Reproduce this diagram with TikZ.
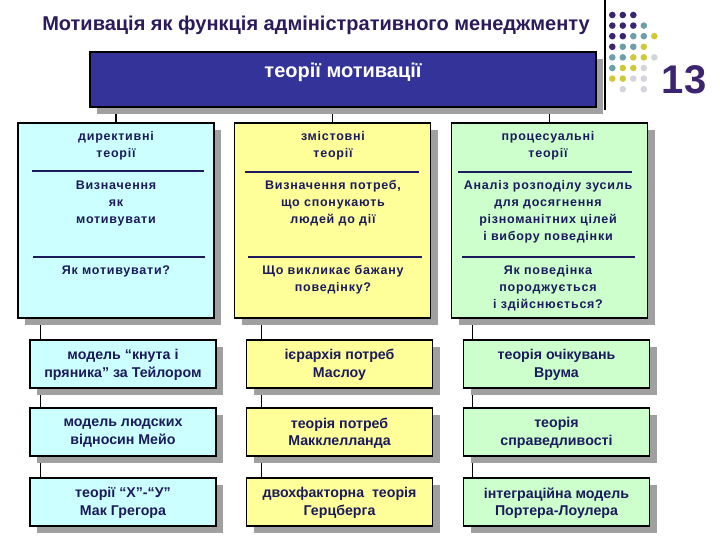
\documentclass[tikz,border=0pt]{standalone}
\usepackage{fontspec}
\setmainfont{Liberation Sans}
\usetikzlibrary{shadows,backgrounds}
\definecolor{titlec}{HTML}{2B1B5A}
\definecolor{txt}{HTML}{1A1A5C}
\definecolor{bluebox}{HTML}{333399}
\definecolor{cyanbox}{HTML}{CCFFFF}
\definecolor{yelbox}{HTML}{FFFF99}
\definecolor{grnbox}{HTML}{CCFFCC}
\definecolor{shd}{HTML}{A0A0A0}
\definecolor{dpur}{HTML}{3B2470}
\definecolor{dteal}{HTML}{6C9FA8}
\definecolor{dyel}{HTML}{CFC93A}
\definecolor{dgray}{HTML}{D4D4DE}
\begin{document}
\begin{tikzpicture}[x=1pt,y=-1pt,
  box/.style={draw=black,line width=1.5pt,inner sep=0pt,
    general shadow={fill=shd,shadow xshift=7pt,shadow yshift=-7pt}},
  colbox/.style={box,minimum width=196pt,minimum height=195pt},
  smallbox/.style={box,minimum width=186pt,minimum height=48pt},
  coltxt/.style={text=txt,font=\fontsize{12.5}{17}\selectfont\bfseries\addfontfeatures{LetterSpace=6},align=center,inner sep=0pt,anchor=north},
  smalltxt/.style={text=txt,font=\fontsize{14.2}{17.5}\selectfont\bfseries,align=center,inner sep=0pt},
  sepline/.style={draw=txt,line width=1.6pt},
  conn/.style={draw=black,line width=1.2pt},
  dot/.style={circle,inner sep=0pt,minimum size=6.6pt}
]
\useasboundingbox (0,0) rectangle (720,540);
% title
\node[text=titlec,font=\fontsize{20}{22}\selectfont\bfseries] (title) at (316,25) {Мотивація як функція адміністративного менеджменту};
% top right decoration
\draw[line width=1.2pt] (605,0) coordinate (vtop) -- (605,110) coordinate (vbot);
\foreach \r/\c/\col in {0/0/dpur,0/1/dpur,0/2/dpur,
  1/0/dpur,1/1/dpur,1/2/dpur,1/3/dteal,
  2/0/dpur,2/1/dpur,2/2/dteal,2/3/dteal,2/4/dyel,
  3/0/dpur,3/1/dteal,3/2/dteal,3/3/dyel,
  4/0/dteal,4/1/dteal,4/2/dyel,4/3/dyel,4/4/dgray,
  5/0/dteal,5/1/dyel,5/2/dyel,5/3/dgray,
  6/0/dyel,6/1/dyel,6/2/dgray,6/3/dgray,
  7/1/dgray,7/3/dgray}
  \node[dot,fill=\col] (d\r\c) at (612.3+10.5*\c,15+10.6*\r) {};
\node[text=dpur,font=\fontsize{40}{40}\selectfont\bfseries] (num) at (684,80) {13};
% main box
\node[box,fill=bluebox,minimum width=506pt,minimum height=55pt] (blue) at (343,79.5) {};
\node[text=white,font=\fontsize{20}{22}\selectfont\bfseries] (bluet) at (343,72) {теорії мотивації};
% column boxes
\node[colbox,fill=cyanbox] (cL) at (116,220.5) {};
\node[colbox,fill=yelbox] (cM) at (332.5,220.5) {};
\node[colbox,fill=grnbox] (cR) at (549.5,220.5) {};
\node[coltxt] (cL1) at (116,131.5) {директивні\\теорії};
\node[coltxt] (cL2) at (116,180.5) {Визначення\\як\\мотивувати};
\node[coltxt] (cL3) at (116,265.5) {Як мотивувати?};
\node[coltxt] (cM1) at (333,131.5) {змістовні\\теорії};
\node[coltxt] (cM2) at (333,180.5) {Визначення потреб,\\що спонукають\\людей до дії};
\node[coltxt] (cM3) at (333,265.5) {Що викликає бажану\\поведінку?};
\node[coltxt] (cR1) at (548,131.5) {процесуальні\\теорії};
\node[coltxt] (cR2) at (548,180.5) {Аналіз розподілу зусиль\\для досягнення\\різноманітних цілей\\і вибору поведінки};
\node[coltxt] (cR3) at (548,265.5) {Як поведінка\\породжується\\і здійснюється?};
\draw[sepline] (32,171) -- (204,171);
\draw[sepline] (33,257) -- (205,257);
\draw[sepline] (245,172) -- (419,172);
\draw[sepline] (248,257) -- (422,257);
\draw[sepline] (458,172) -- (632,172);
\draw[sepline] (462,257) -- (635,257);
% small boxes
\node[smallbox,fill=cyanbox] (r1L) at (123,364) {};
\node[smallbox,fill=cyanbox] (r2L) at (123,432) {};
\node[smallbox,fill=cyanbox] (r3L) at (123,502) {};
\node[smallbox,fill=yelbox] (r1M) at (339.5,364) {};
\node[smallbox,fill=yelbox] (r2M) at (339.5,432) {};
\node[smallbox,fill=yelbox] (r3M) at (339.5,502) {};
\node[smallbox,fill=grnbox] (r1R) at (556.5,364) {};
\node[smallbox,fill=grnbox] (r2R) at (556.5,432) {};
\node[smallbox,fill=grnbox] (r3R) at (556.5,502) {};
\node[smalltxt] (t1L) at (123,365) {модель “кнута і\\пряника” за Тейлором};
\node[smalltxt] (t2L) at (123,433) {модель людских\\відносин Мейо};
\node[smalltxt] (t3L) at (123,503) {теорії “Х”-“У”\\Мак Грегора};
\node[smalltxt] (t1M) at (339.5,365) {ієрархія потреб\\Маслоу};
\node[smalltxt] (t2M) at (339.5,433) {теорія потреб\\Макклелланда};
\node[smalltxt] (t3M) at (339.5,503) {двохфакторна~ теорія\\Герцберга};
\node[smalltxt] (t1R) at (556.5,365) {теорія очікувань\\Врума};
\node[smalltxt] (t2R) at (556.5,433) {теорія\\справедливості};
\node[smalltxt] (t3R) at (556.5,503) {інтеграційна модель\\Портера-Лоулера};
% connectors behind
\begin{scope}[on background layer]
\fill[white] (0,0) rectangle (720,540);
\draw[conn] (cL.north |- blue.south) -- (cL.north);
\draw[conn] (cM.north |- blue.south) -- (cM.north);
\draw[conn] (cR.north |- blue.south) -- (cR.north);
\draw[conn] ([xshift=11pt]r1L.north west |- cL.south) -- ([xshift=11pt]r3L.north west);
\draw[conn] ([xshift=16pt]r1M.north west |- cM.south) -- ([xshift=16pt]r3M.north west);
\draw[conn] ([xshift=10pt]r1R.north west |- cR.south) -- ([xshift=10pt]r3R.north west);
\end{scope}
\end{tikzpicture}
\end{document}
